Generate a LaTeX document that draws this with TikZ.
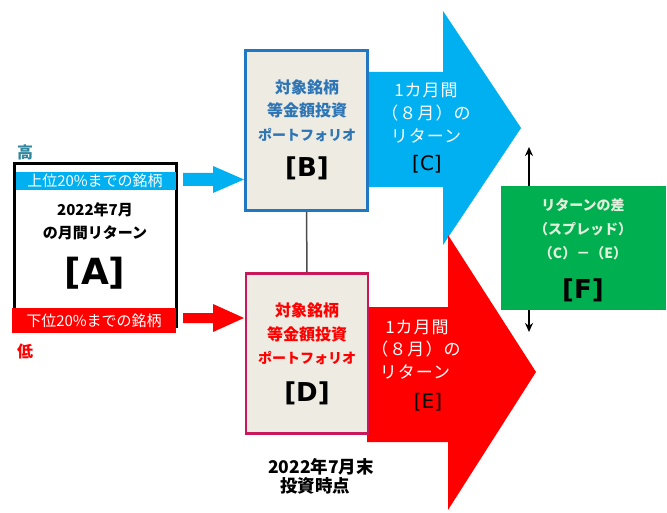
\documentclass[tikz,border=0pt]{standalone}
\usepackage{fontspec}
\setmainfont{Noto Sans CJK JP}
\newfontfamily\lat{DejaVu Sans}
\usetikzlibrary{arrows.meta,calc}
\definecolor{cyanc}{HTML}{00B0F0}
\definecolor{redc}{HTML}{FF0000}
\definecolor{greenc}{HTML}{00B050}
\definecolor{beige}{HTML}{EEEBE2}
\definecolor{bblue}{HTML}{1F78C1}
\definecolor{btext}{HTML}{2E75B6}
\definecolor{dborder}{HTML}{C8185A}
\definecolor{teal}{HTML}{31859C}
\definecolor{ftext}{HTML}{E2EFDA}
\tikzset{
  pbox/.style={fill=beige, line width=2.5pt, minimum width=122pt, minimum height=160pt, inner sep=0pt},
  jt/.style={inner sep=0pt, font=\bfseries\fontsize{16}{18}\selectfont},
  kt/.style={inner sep=0pt, font=\bfseries\fontsize{14}{16}\selectfont},
  ft/.style={inner sep=0pt, text=ftext, font=\bfseries\fontsize{14}{16}\selectfont},
  atext/.style={inner sep=0pt, font=\bfseries\fontsize{15}{17}\selectfont},
  rt/.style={inner sep=0pt, font=\addfontfeatures{LetterSpace=6}\fontsize{17}{19}\selectfont, text=white},
  big/.style={inner sep=0pt, font=\lat\bfseries\fontsize{26}{28}\selectfont},
  mid/.style={inner sep=0pt, font=\lat\fontsize{20}{22}\selectfont},
  band/.style={inner sep=0pt, text=white, font=\fontsize{15}{17}\selectfont},
  vline/.style={-{Stealth[length=9pt,width=8pt]}, line width=1.6pt}
}
\begin{document}
\begin{tikzpicture}[x=1pt,y=-1pt]
\useasboundingbox[fill=white] (0,0) rectangle (667,513);
% big arrows
\fill[cyanc] (369,72) -- (443,72) -- (443,11) -- (521,128) -- (443,245) -- (443,187) -- (369,187) -- cycle;
\fill[redc] (367,307) -- (448,307) -- (448,235) -- (536,372) -- (448,510) -- (448,442) -- (367,442) -- cycle;
% box A
\node[draw=black, line width=3pt, minimum width=162pt, minimum height=162pt, inner sep=0pt] (A) at (95.5,245) {};
\fill[cyanc] (15.5,172) rectangle (175.5,190);
\node[band] (Aup) at (95,181) {上位20\%までの銘柄};
\fill[redc] (12,308) rectangle (176,333);
\node[band] (Adn) at (94,320.5) {下位20\%までの銘柄};
\node[atext] (A1) at (95,210) {2022年7月};
\node[atext] (A2) at (95,233) {の月間リターン};
\node[big, font=\lat\bfseries\fontsize{36}{38}\selectfont] (A3) at (95,273) {[A]};
\node[atext, text=teal, font=\bfseries\fontsize{16}{18}\selectfont] (hi) at (25,152) {高};
\node[atext, text=redc, font=\bfseries\fontsize{16}{18}\selectfont] (lo) at (25,351) {低};
% small arrows
\fill[cyanc] (183,173) -- (213,173) -- (213,166) -- (244,179.5) -- (213,193) -- (213,186) -- (183,186) -- cycle;
\fill[redc] (183,313) -- (213,313) -- (213,304) -- (244,318) -- (213,332) -- (213,323) -- (183,323) -- cycle;
% boxes B, D
\node[pbox, draw=bblue] (B) at (306.5,130.5) {};
\node[pbox, draw=dborder] (D) at (307,353.5) {};
\draw[line width=1.5pt, black!70] (B.south) -- (D.north);
\node[jt, text=btext] (B1) at (307,87) {対象銘柄};
\node[jt, text=btext] (B2) at (307,110) {等金額投資};
\node[kt, text=btext] (B3) at (307,135) {ポートフォリオ};
\node[big] (B4) at (307,168) {[B]};
\node[jt, text=redc] (D1) at (307,310) {対象銘柄};
\node[jt, text=redc] (D2) at (307,334) {等金額投資};
\node[kt, text=redc] (D3) at (307,358) {ポートフォリオ};
\node[big] (D4) at (307,393) {[D]};
% C texts
\node[rt] (C1) at (426,90) {1カ月間};
\node[rt] (C2) at (426,113) {（８月）の};
\node[rt] (C3) at (426,136) {リターン};
\node[mid] (C4) at (427,164) {[C]};
% E texts
\node[rt] (E1) at (417,327) {1カ月間};
\node[rt] (E2) at (416,349) {（８月）の};
\node[rt] (E3) at (415,372) {リターン};
\node[mid] (E4) at (428,402) {[E]};
% bottom text
\node[atext, font=\bfseries\fontsize{17.5}{19}\selectfont] (T1) at (321,467) {2022年7月末};
\node[atext, font=\bfseries\fontsize{17.5}{19}\selectfont] (T2) at (315,486) {投資時点};
% F
\node[fill=greenc, minimum width=165pt, minimum height=124pt, inner sep=0pt] (F) at (583.5,248) {};
\node[ft] (F1) at (583,205) {リターンの差};
\node[ft] (F2) at (583,229) {（スプレッド）};
\node[ft] (F3) at (583,253) {（C）－（E）};
\node[big] (F4) at (583,290) {[F]};
\coordinate (Fu) at (529,147);
\coordinate (Fd) at (529,332);
\draw[vline] (F.north -| Fu) -- (Fu);
\draw[vline] (F.south -| Fd) -- (Fd);
\end{tikzpicture}
\end{document}
